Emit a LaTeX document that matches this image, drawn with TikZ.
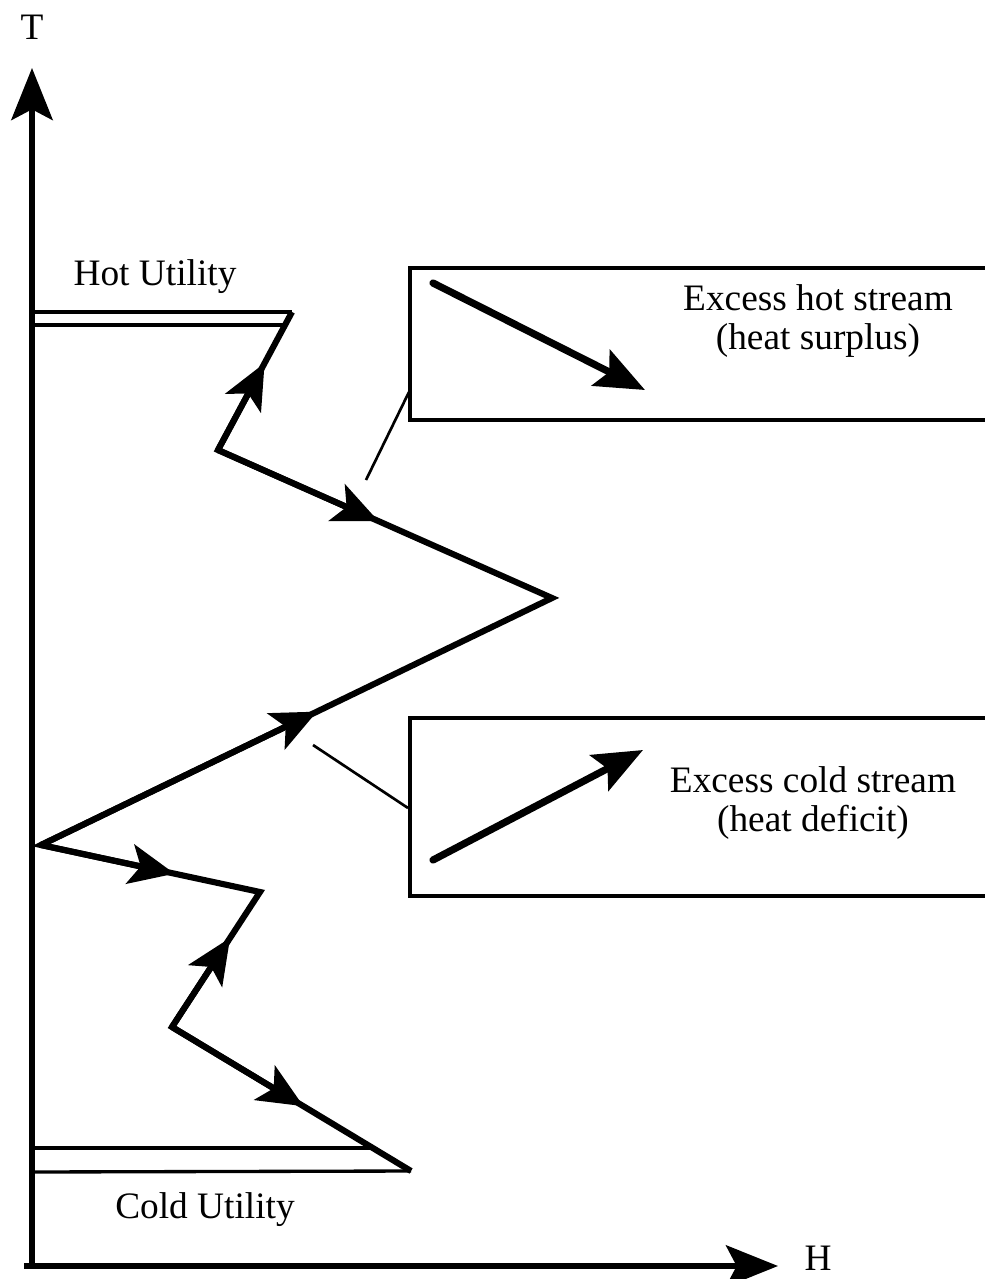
\documentclass[tikz,border=0pt]{standalone}
\usepackage{fontspec}
\setmainfont{Liberation Serif}
\usetikzlibrary{arrows.meta,calc}
\begin{document}
\begin{tikzpicture}[x=0.75pt,y=-0.75pt,
  axis/.style={line width=4.4pt,-{Stealth[length=39pt,width=31pt,inset=8pt]}},
  stream/.style={line width=4.6pt,line join=miter},
  flowhead/.style={line width=4.6pt,-{Stealth[length=34pt,width=30pt,inset=8pt]}},
  boxarrow/.style={line width=5.4pt,line cap=round,-{Stealth[length=37pt,width=30pt,inset=7pt]}},
  thinline/.style={line width=2.5pt},
  leader/.style={line width=2pt},
  lbl/.style={font=\fontsize{28}{29}\selectfont,inner sep=0pt,align=center},
]
\useasboundingbox (0,0) rectangle (985,1279);

% axes
\coordinate (o) at (32,1266);
\coordinate (ttip) at (32,68);
\coordinate (hstart) at (24,1266);
\coordinate (htip) at (778,1266);
\draw[axis] (o) -- (ttip);
\draw[axis] (hstart) -- (htip);
\node[lbl] (tlabel) at (32,27) {T};
\node[lbl] (hlabel) at (818,1258) {H};

% corner points of the composite curve
\coordinate (p1) at (292,312);
\coordinate (p2) at (218,450);
\coordinate (p3) at (552,598);
\coordinate (p4) at (41,845);
\coordinate (p5) at (260,892);
\coordinate (p6) at (172,1027);
\coordinate (p7) at (411,1171);

% hot utility
\coordinate (hu1) at (32,312);
\coordinate (hu2) at (32,325);
\coordinate (hu3) at (286,325);
\draw[thinline] (hu1) -- (p1);
\draw[thinline] (hu2) -- (hu3);
\node[lbl] (hot) at (155,277) {Hot Utility};

% cold utility
\coordinate (cu1) at (32,1148);
\coordinate (cu2) at (372,1148);
\coordinate (cu3) at (32,1172);
\draw[thinline] (cu1) -- (cu2);
\draw[thinline] (cu3) -- (p7);
\node[lbl] (cold) at (205,1210) {Cold Utility};

% composite curve
\draw[stream] (p1) -- (p2) -- (p3) -- (p4) -- (p5) -- (p6) -- (p7);
\draw[flowhead] (p2) -- ($(p2)!0.63!(p1)$);
\draw[flowhead] (p2) -- ($(p2)!0.48!(p3)$);
\draw[flowhead] (p4) -- ($(p4)!0.54!(p3)$);
\draw[flowhead] (p4) -- ($(p4)!0.61!(p5)$);
\draw[flowhead] (p6) -- ($(p6)!0.66!(p5)$);
\draw[flowhead] (p6) -- ($(p6)!0.55!(p7)$);

% legend box: hot stream
\coordinate (b1tr) at (985,268);
\coordinate (b1tl) at (410,268);
\coordinate (b1bl) at (410,420);
\coordinate (b1br) at (985,420);
\draw[thinline] (b1tr) -- (b1tl) -- (b1bl) -- (b1br);
\coordinate (a1s) at (433,283);
\coordinate (a1e) at (645,390);
\draw[boxarrow] (a1s) -- (a1e);
\node[lbl] (hottext) at (818,321) {Excess hot stream\\(heat surplus)};
\coordinate (l1s) at (409,392);
\coordinate (l1e) at (366,480);
\draw[leader] (l1s) -- (l1e);

% legend box: cold stream
\coordinate (b2tr) at (985,718);
\coordinate (b2tl) at (410,718);
\coordinate (b2bl) at (410,896);
\coordinate (b2br) at (985,896);
\draw[thinline] (b2tr) -- (b2tl) -- (b2bl) -- (b2br);
\coordinate (a2s) at (433,860);
\coordinate (a2e) at (643,750);
\draw[boxarrow] (a2s) -- (a2e);
\node[lbl] (coldtext) at (813,803) {Excess cold stream\\(heat deficit)};
\coordinate (l2s) at (313,745);
\coordinate (l2e) at (408,808);
\draw[leader] (l2s) -- (l2e);
\end{tikzpicture}
\end{document}
